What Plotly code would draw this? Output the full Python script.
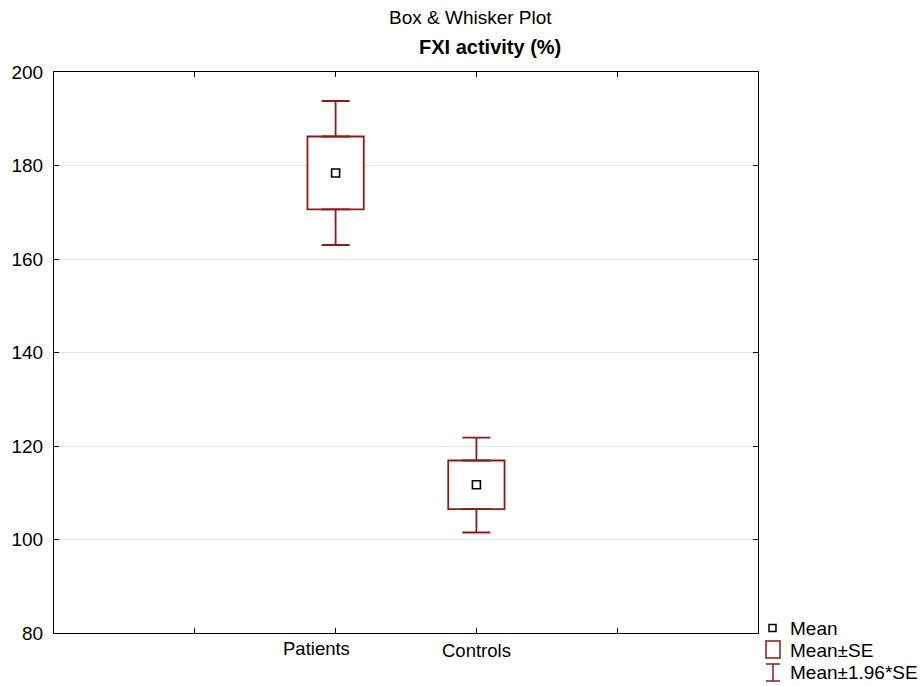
import plotly.graph_objects as go

categories = ["Patients", "Controls"]
positions = [2, 3]
mean = [178.4, 111.7]
box_low = [170.6, 106.5]     # Mean - SE
box_high = [186.2, 116.9]    # Mean + SE
whisk_low = [163.0, 101.5]   # Mean - 1.96*SE
whisk_high = [193.8, 121.8]  # Mean + 1.96*SE

x_tickvals = [1, 2, 3, 4]
y_tickvals = [80, 100, 120, 140, 160, 180, 200]
legend_labels = ["Mean", "Mean±SE", "Mean±1.96*SE"]

RED = "#8B1A1A"
FONT = "Liberation Sans, Arial, sans-serif"

W, H = 923, 686
ML, MR, MT, MB = 54, 165, 72, 53
PW, PH = W - ML - MR, H - MT - MB

def px(x):
    return (x - ML) / PW

def py(y):
    return (H - MB - y) / PH

fig = go.Figure()

# Mean ± SE boxes
fig.add_trace(go.Bar(
    x=positions, y=[h - l for h, l in zip(box_high, box_low)], base=box_low,
    width=0.4, marker=dict(color="white", line=dict(color=RED, width=1.8)),
    name="Mean±SE", showlegend=False, hoverinfo="skip",
))

# Whiskers (Mean ± 1.96*SE), drawn from box edges outward
wx = positions + positions
wy = box_high + box_low
plus = [wh - bh for wh, bh in zip(whisk_high, box_high)] + [0, 0]
minus = [0, 0] + [bl - wl for bl, wl in zip(box_low, whisk_low)]
fig.add_trace(go.Scatter(
    x=wx, y=wy, mode="markers", marker=dict(size=0.1, color=RED, opacity=0),
    error_y=dict(type="data", array=plus, arrayminus=minus, symmetric=False,
                 color=RED, thickness=1.8, width=14),
    showlegend=False, hoverinfo="skip",
))

# Means
fig.add_trace(go.Scatter(
    x=positions, y=mean, mode="markers",
    marker=dict(symbol="square", size=8, color="white", line=dict(color="black", width=1.6)),
    name="Mean", showlegend=False,
))

annotations = [
    dict(text="Box & Whisker Plot", xref="paper", yref="paper", x=px(470), y=py(17.5),
         showarrow=False, font=dict(size=19), xanchor="center", yanchor="middle"),
    dict(text="<b>FXI activity (%)</b>", xref="paper", yref="paper", x=px(490), y=py(47),
         showarrow=False, font=dict(size=20), xanchor="center", yanchor="middle"),
]

# Category labels under the axis (Statistica-style placement)
label_shift = [-19, 0]
label_y = [648, 650]
for cat, pos, sh, ly in zip(categories, positions, label_shift, label_y):
    annotations.append(dict(text=cat, xref="x", yref="paper", x=pos, y=py(ly),
                            xshift=sh, showarrow=False, font=dict(size=18.5),
                            xanchor="center", yanchor="middle"))

# Manual legend (bottom right, outside plot)
text_x = 788
rows_y = [628, 650, 672]
for lab, ry in zip(legend_labels, rows_y):
    annotations.append(dict(text=lab, xref="paper", yref="paper", x=px(text_x), y=py(ry),
                            showarrow=False, font=dict(size=19), xanchor="left",
                            yanchor="middle"))

shapes = [
    # Mean symbol
    dict(type="rect", xref="paper", yref="paper", x0=px(769), x1=px(776),
         y0=py(624.5), y1=py(631.5), line=dict(color="black", width=1.5),
         fillcolor="white"),
    # Mean±SE symbol
    dict(type="rect", xref="paper", yref="paper", x0=px(766), x1=px(780),
         y0=py(641), y1=py(658), line=dict(color=RED, width=1.5), fillcolor="white"),
    # Mean±1.96*SE symbol
    dict(type="line", xref="paper", yref="paper", x0=px(773), x1=px(773),
         y0=py(664), y1=py(681), line=dict(color=RED, width=1.5)),
    dict(type="line", xref="paper", yref="paper", x0=px(766), x1=px(780),
         y0=py(664), y1=py(664), line=dict(color=RED, width=1.5)),
    dict(type="line", xref="paper", yref="paper", x0=px(766), x1=px(780),
         y0=py(681), y1=py(681), line=dict(color=RED, width=1.5)),
]

fig.update_layout(
    width=W, height=H,
    margin=dict(l=ML, r=MR, t=MT, b=MB, autoexpand=False),
    paper_bgcolor="white", plot_bgcolor="white",
    font=dict(family=FONT, size=18, color="black"),
    showlegend=False,
    barmode="overlay",
    annotations=annotations,
    shapes=shapes,
)

fig.update_xaxes(
    range=[0, 5], tickvals=x_tickvals, showticklabels=False,
    showgrid=False, zeroline=False, showline=True, linecolor="black", linewidth=1,
    mirror="ticks", ticks="inside", ticklen=5, tickcolor="black",
)
fig.update_yaxes(
    range=[80, 200], tickvals=y_tickvals,
    showgrid=True, gridcolor="#e6e6e6", gridwidth=1, zeroline=False,
    showline=True, linecolor="black", linewidth=1,
    mirror="ticks", ticks="inside", ticklen=5, tickcolor="black",
    tickfont=dict(size=19), ticklabelstandoff=6,
)

fig.write_html(
    "out.html",
    config={"displayModeBar": False},
    post_script="document.body.style.margin='0px';document.body.style.overflow='hidden';",
)
